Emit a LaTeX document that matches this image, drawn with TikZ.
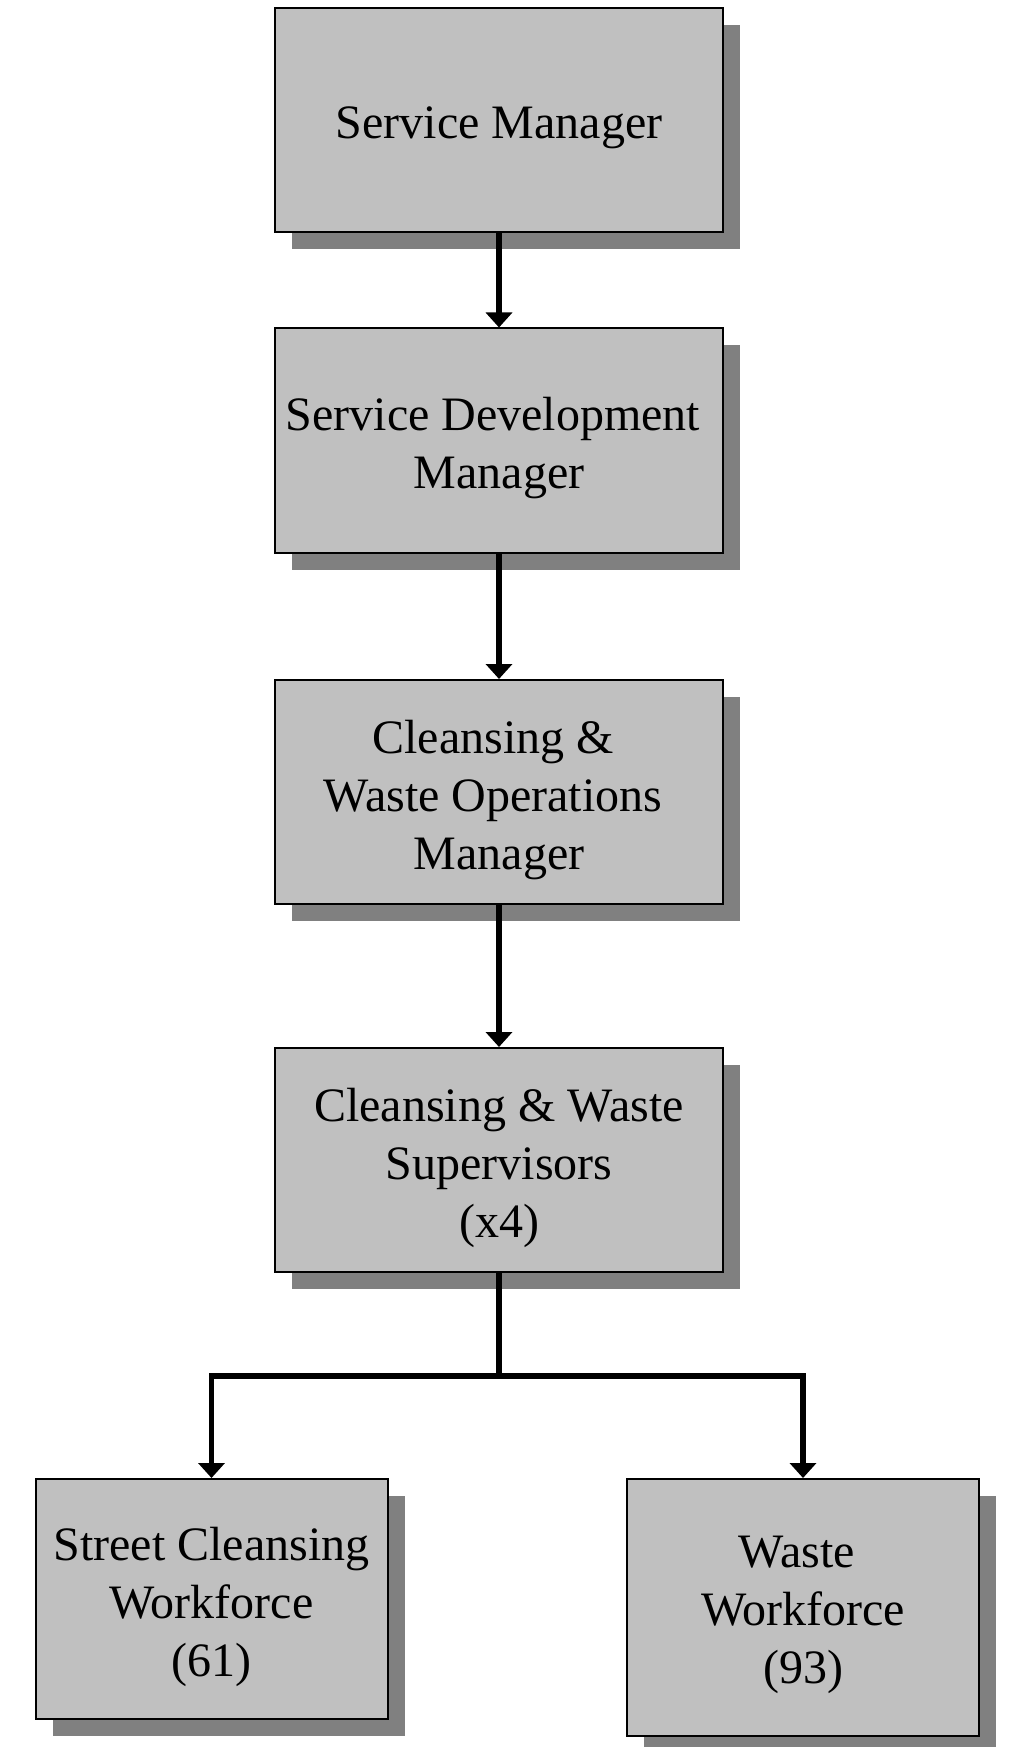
\documentclass[tikz,border=0pt]{standalone}
\usepackage{fontspec}
\setmainfont{Liberation Serif}
\usetikzlibrary{arrows.meta,shadows}
\begin{document}
\begin{tikzpicture}[x=0.75pt,y=-0.75pt,
  box/.style={draw=black, line width=1.5pt, fill={rgb,255:red,192;green,192;blue,192},
    rectangle, inner sep=0pt,
    drop shadow={shadow xshift=12.75pt, shadow yshift=-12.75pt, fill={rgb,255:red,128;green,128;blue,128}, opacity=1}},
  txt/.style={align=center, inner sep=0pt, yshift=-5.8pt, font=\fontsize{36}{43.5}\selectfont},
  midbox/.style={box, minimum width=336pt, minimum height=168pt},
  link/.style={line width=4pt},
  arr/.style={link, -{Triangle[width=19.5pt,length=11.25pt]}}]
\useasboundingbox (0,0) rectangle (1012,1747);
\begin{scope}
\clip (0,0) rectangle (1012,1747);
\node[midbox, label={[txt]center:Service Manager}] (sm) at (499,120) {};
\node[midbox, label={[txt]center:{Service Development\kern0.25em\\Manager}}] (sdm) at (499,440.5) {};
\node[midbox, label={[txt]center:{Cleansing \&\kern0.25em\\Waste Operations\kern0.25em\\Manager}}] (cwom) at (499,792) {};
\node[midbox, label={[txt]center:{Cleansing \& Waste\\Supervisors\\(x4)}}] (cws) at (499,1160) {};
\node[box, minimum width=264pt, minimum height=180pt, label={[txt]center:{Street Cleansing\\Workforce\\(61)}}] (scw) at (211.5,1599) {};
\node[box, minimum width=264pt, minimum height=192.75pt, label={[txt]center:{Waste\kern0.25em\\Workforce\\(93)}}] (ww) at (803,1607.5) {};
\end{scope}
\coordinate (j) at (499,1376);
\draw[arr] (sm.south) -- (sdm.north);
\draw[arr] (sdm.south) -- (cwom.north);
\draw[arr] (cwom.south) -- (cws.north);
\draw[link] (cws.south) -- (j);
\draw[arr] (j) -| (scw.north);
\draw[arr] (j) -| (ww.north);
\end{tikzpicture}
\end{document}
